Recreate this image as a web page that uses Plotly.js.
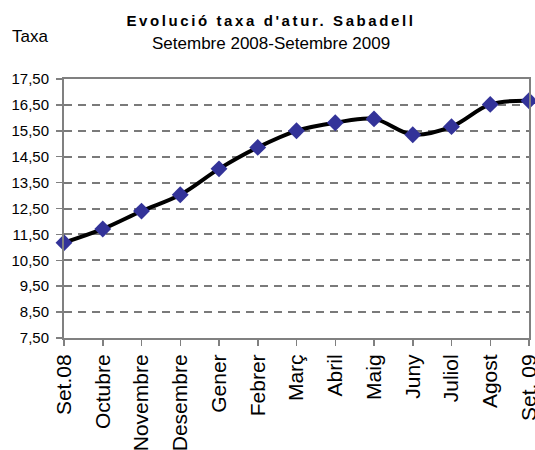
<!DOCTYPE html>
<html>
<head>
<meta charset="utf-8">
<script src="https://cdn.plot.ly/plotly-3.0.1.min.js"></script>
<style>
  html, body { margin: 0; padding: 0; background: #fff; }
  #chart { width: 535px; height: 450px; }
  .gtitle { letter-spacing: 2.6px; }
</style>
</head>
<body>
<div id="chart"></div>
<script>
// Data
var months = ["Set.08", "Octubre", "Novembre", "Desembre", "Gener", "Febrer", "Març",
              "Abril", "Maig", "Juny", "Juliol", "Agost", "Set. 09"];
var rates = [11.18, 11.71, 12.40, 13.03, 14.03, 14.86, 15.50, 15.81, 15.96, 15.35, 15.66, 16.52, 16.66];
var yTicks = [7.5, 8.5, 9.5, 10.5, 11.5, 12.5, 13.5, 14.5, 15.5, 16.5, 17.5];

var FONT = "Liberation Sans, Arial, sans-serif";

var trace = {
  type: "scatter",
  mode: "lines+markers",
  x: months,
  y: rates,
  cliponaxis: false,
  line: { color: "#000000", width: 4, shape: "spline", smoothing: 1 },
  marker: { symbol: "diamond", size: 13, color: "#333399", line: { width: 0 } },
  hoverinfo: "x+y"
};

var layout = {
  width: 535,
  height: 450,
  margin: { l: 64, r: 6, t: 79, b: 112, pad: 0 },
  paper_bgcolor: "#ffffff",
  plot_bgcolor: "#ffffff",
  showlegend: false,
  separators: ",.",
  font: { family: FONT, color: "#000000" },
  title: {
    text: "<b>Evolució taxa d'atur. Sabadell</b>",
    font: { family: FONT, size: 15, color: "#000000" },
    x: 271 / 535, xanchor: "center",
    y: 1 - 21 / 450, yanchor: "middle",
    xref: "container", yref: "container"
  },
  annotations: [
    {
      text: "Setembre 2008-Setembre 2009",
      xref: "paper", yref: "paper",
      x: (271 - 64) / 465, xanchor: "center",
      y: 1 + (79 - 43) / 259, yanchor: "middle",
      showarrow: false,
      font: { family: FONT, size: 17, color: "#000000" }
    },
    {
      text: "Taxa",
      xref: "paper", yref: "paper",
      x: -54 / 465, xanchor: "left",
      y: 1 + (79 - 36) / 259, yanchor: "middle",
      showarrow: false,
      font: { family: FONT, size: 17, color: "#000000" }
    }
  ],
  xaxis: {
    type: "category",
    range: [0, months.length - 1],
    showgrid: false,
    zeroline: false,
    showline: true,
    mirror: true,
    linecolor: "#808080",
    linewidth: 2,
    ticks: "outside",
    ticklen: 6,
    tickwidth: 1.5,
    tickcolor: "#808080",
    tickangle: -90,
    tickfont: { family: FONT, size: 21, color: "#000000" },
    fixedrange: true
  },
  yaxis: {
    range: [7.5, 17.5],
    tickmode: "array",
    tickvals: yTicks,
    tickformat: ".2f",
    showgrid: true,
    gridcolor: "#7a7a7a",
    gridwidth: 2,
    griddash: "8px,6px",
    zeroline: false,
    showline: true,
    mirror: true,
    linecolor: "#808080",
    linewidth: 2,
    ticks: "outside",
    ticklen: 6,
    tickwidth: 1.5,
    tickcolor: "#808080",
    ticklabelstandoff: 4,
    tickfont: { family: FONT, size: 15, color: "#000000" },
    fixedrange: true
  }
};

Plotly.newPlot("chart", [trace], layout, { displayModeBar: false, staticPlot: true });
</script>
</body>
</html>
